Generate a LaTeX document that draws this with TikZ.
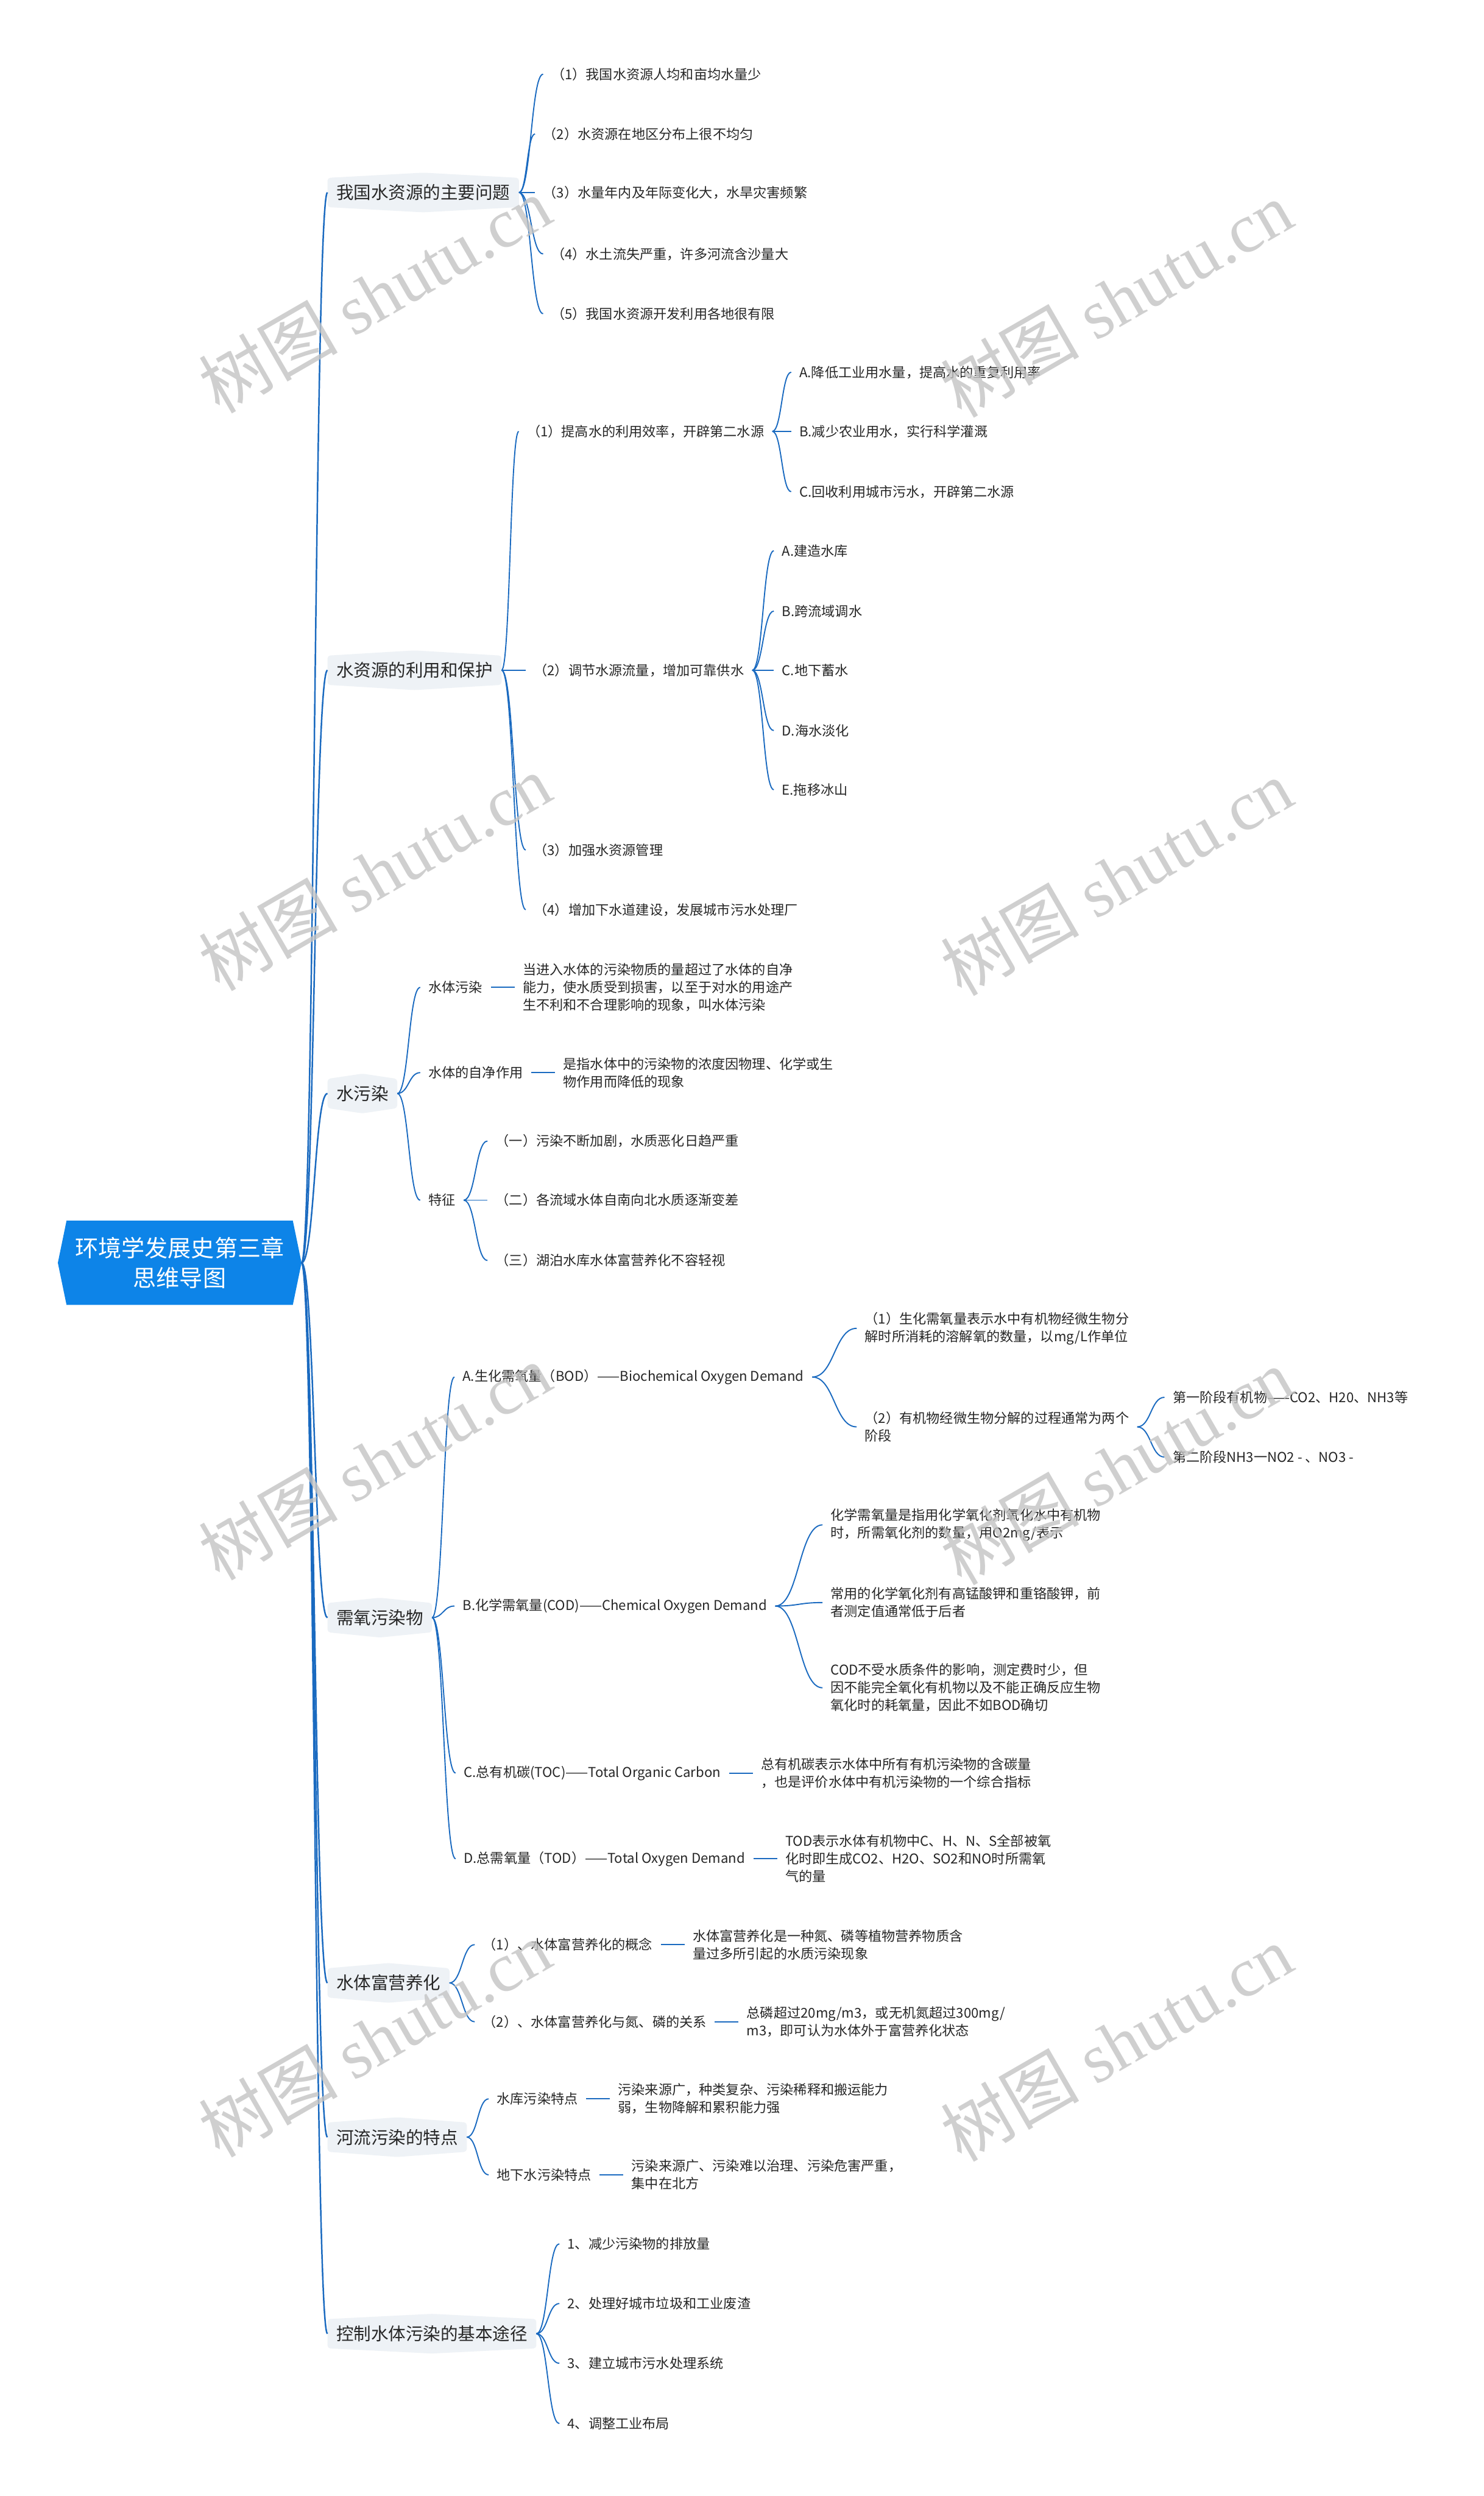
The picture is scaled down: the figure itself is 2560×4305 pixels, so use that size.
\documentclass[tikz,border=0pt]{standalone}
\usepackage{fontspec}
\setmainfont{Noto Sans CJK SC}
\newfontfamily\wmserif{Liberation Serif}
\usepackage{tikz}
\usetikzlibrary{positioning,calc,backgrounds}
\definecolor{rootblue}{HTML}{0D84E8}
\definecolor{linkblue}{HTML}{1A6AC0}
\definecolor{topicgrey}{HTML}{EEF2F6}
\definecolor{ink}{HTML}{262626}
\definecolor{wmgrey}{HTML}{C4C4C4}
\tikzset{
  rootbox/.style={text=white, align=center, font=\fontsize{40}{52}\selectfont, minimum width=420pt, minimum height=145pt, inner sep=0pt},
  topicbox/.style={anchor=west, text=ink, font=\fontsize{30}{36}\selectfont, inner xsep=15pt, inner ysep=0pt, minimum height=50pt},
  leaf/.style={anchor=west, text=ink, align=left, font=\fontsize{23.3}{30.5}\selectfont, inner xsep=14pt, inner ysep=3pt},
  mline/.style={draw=linkblue, line width=2pt},
  rootline/.style={mline, line width=2.6pt},
  wmark/.style={text=wmgrey, opacity=0.8, rotate=30, font=\fontsize{120}{120}\selectfont},
}
\newcommand{\mmlink}[3][]{%
  \draw[mline,#1] let \p1=(#2.east), \p2=(#3.west) in
    (\p1) .. controls ({(\x1+\x2)/2},\y1) and ({(\x1+\x2)/2},\y2) .. (\p2);}

\begin{document}
\begin{tikzpicture}[x=1pt, y=-1pt, node distance=41pt]
  \useasboundingbox (0,0) rectangle (2560,4305);
  \node[rootbox] (root) at (310,2178) {环境学发展史第三章\\思维导图};
  \node[topicbox] (probs) at (565,332) {我国水资源的主要问题};
  \node[topicbox] (use) at (565,1156) {水资源的利用和保护};
  \node[topicbox] (poll) at (565,1886) {水污染};
  \node[topicbox] (oxy) at (565,2790) {需氧污染物};
  \node[topicbox] (eutro) at (565,3420) {水体富营养化};
  \node[topicbox] (river) at (565,3686) {河流污染的特点};
  \node[topicbox] (ctrl) at (565,4025) {控制水体污染的基本途径};

  \node[leaf] (p1) at (937,128) {（1）我国水资源人均和亩均水量少};
  \node[leaf] (p2) at (923,231) {（2）水资源在地区分布上很不均匀};
  \node[leaf] (p3) at (923,332) {（3）水量年内及年际变化大，水旱灾害频繁};
  \node[leaf] (p4) at (937,438) {（4）水土流失严重，许多河流含沙量大};
  \node[leaf] (p5) at (937,541) {（5）我国水资源开发利用各地很有限};

  \node[leaf] (u1) at (895,744) {（1）提高水的利用效率，开辟第二水源};
  \node[leaf] (u2) at (907,1156) {（2）调节水源流量，增加可靠供水};
  \node[leaf] (u3) at (907,1466) {（3）加强水资源管理};
  \node[leaf] (u4) at (907,1569) {（4）增加下水道建设，发展城市污水处理厂};
  \node[leaf] (u1a) at (1365,642) {A.降低工业用水量，提高水的重复利用率};
  \node[leaf] (u1b) at (1365,744) {B.减少农业用水，实行科学灌溉};
  \node[leaf] (u1c) at (1365,848) {C.回收利用城市污水，开辟第二水源};
  \node[leaf] (u2a) at (1335,950) {A.建造水库};
  \node[leaf] (u2b) at (1335,1054) {B.跨流域调水};
  \node[leaf] (u2c) at (1335,1156) {C.地下蓄水};
  \node[leaf] (u2d) at (1335,1260) {D.海水淡化};
  \node[leaf] (u2e) at (1335,1362) {E.拖移冰山};

  \node[leaf] (w1) at (725,1703) {水体污染};
  \node[leaf, right=of w1] (w1d) {当进入水体的污染物质的量超过了水体的自净\\能力，使水质受到损害，以至于对水的用途产\\生不利和不合理影响的现象，叫水体污染};
  \node[leaf] (w2) at (725,1850) {水体的自净作用};
  \node[leaf, right=of w2] (w2d) {是指水体中的污染物的浓度因物理、化学或生\\物作用而降低的现象};
  \node[leaf] (w3) at (725,2070) {特征};
  \node[leaf] (w3a) at (841,1968) {（一）污染不断加剧，水质恶化日趋严重};
  \node[leaf] (w3b) at (841,2070) {（二）各流域水体自南向北水质逐渐变差};
  \node[leaf] (w3c) at (841,2174) {（三）湖泊水库水体富营养化不容轻视};

  \node[leaf] (bod) at (784,2375) {A.生化需氧量（BOD）——Biochemical Oxygen Demand};
  \node[leaf] (cod) at (784,2770) {B.化学需氧量(COD)——Chemical Oxygen Demand};
  \node[leaf] (toc) at (786,3058) {C.总有机碳(TOC)——Total Organic Carbon};
  \node[leaf] (tod) at (786,3206) {D.总需氧量（TOD）——Total Oxygen Demand};
  \node[leaf] (bod1) at (1478,2291) {（1）生化需氧量表示水中有机物经微生物分\\解时所消耗的溶解氧的数量，以mg/L作单位};
  \node[leaf] (bod2) at (1478,2461) {（2）有机物经微生物分解的过程通常为两个\\阶段};
  \node[leaf] (stage1) at (2009,2410) {第一阶段有机物——CO2、H20、NH3等};
  \node[leaf] (stage2) at (2009,2513) {第二阶段NH3一NO2 - 、NO3 -};
  \node[leaf] (cod1) at (1419,2630) {化学需氧量是指用化学氧化剂氧化水中有机物\\时，所需氧化剂的数量，用O2mg/表示};
  \node[leaf] (cod2) at (1419,2764) {常用的化学氧化剂有高锰酸钾和重铬酸钾，前\\者测定值通常低于后者};
  \node[leaf] (cod3) at (1419,2911) {COD不受水质条件的影响，测定费时少，但\\因不能完全氧化有机物以及不能正确反应生物\\氧化时的耗氧量，因此不如BOD确切};
  \node[leaf, right=of toc] (tocd) {总有机碳表示水体中所有有机污染物的含碳量\\，也是评价水体中有机污染物的一个综合指标};
  \node[leaf, right=of tod] (todd) {TOD表示水体有机物中C、H、N、S全部被氧\\化时即生成CO2、H2O、SO2和NO时所需氧\\气的量};

  \node[leaf] (e1) at (819,3354) {（1）、水体富营养化的概念};
  \node[leaf, right=of e1] (e1d) {水体富营养化是一种氮、磷等植物营养物质含\\量过多所引起的水质污染现象};
  \node[leaf] (e2) at (819,3487) {（2）、水体富营养化与氮、磷的关系};
  \node[leaf, right=of e2] (e2d) {总磷超过20mg/m3，或无机氮超过300mg/\\m3，即可认为水体外于富营养化状态};

  \node[leaf] (r1) at (843,3620) {水库污染特点};
  \node[leaf, right=of r1] (r1d) {污染来源广，种类复杂、污染稀释和搬运能力\\弱，生物降解和累积能力强};
  \node[leaf] (r2) at (843,3751) {地下水污染特点};
  \node[leaf, right=of r2] (r2d) {污染来源广、污染难以治理、污染危害严重，\\集中在北方};

  \node[leaf] (k1) at (965,3870) {1、减少污染物的排放量};
  \node[leaf] (k2) at (965,3973) {2、处理好城市垃圾和工业废渣};
  \node[leaf] (k3) at (965,4076) {3、建立城市污水处理系统};
  \node[leaf] (k4) at (965,4180) {4、调整工业布局};

  \begin{scope}[on background layer]
    \fill[white] (0,0) rectangle (2560,4305);
    \fill[rootblue] (root.west) -- ([xshift=15pt]root.north west) -- ([xshift=-15pt]root.north east) -- (root.east) -- ([xshift=-15pt]root.south east) -- ([xshift=15pt]root.south west) -- cycle;
    \foreach \t in {probs,use,poll,oxy,eutro,river,ctrl}
      \fill[topicgrey, rounded corners=5pt] (\t.south west) -- (\t.north west) -- ([yshift=9pt]\t.north) -- (\t.north east) -- (\t.south east) -- ([yshift=-9pt]\t.south) -- cycle;
  \end{scope}

  \foreach \t in {probs,use,poll,oxy,eutro,river,ctrl} \mmlink[rootline]{root}{\t};
  \foreach \c in {p1,p2,p3,p4,p5} \mmlink{probs}{\c};
  \foreach \c in {u1,u2,u3,u4} \mmlink{use}{\c};
  \foreach \c in {u1a,u1b,u1c} \mmlink{u1}{\c};
  \foreach \c in {u2a,u2b,u2c,u2d,u2e} \mmlink{u2}{\c};
  \foreach \c in {w1,w2,w3} \mmlink{poll}{\c};
  \foreach \c in {w3a,w3b,w3c} \mmlink{w3}{\c};
  \foreach \c in {bod,cod,toc,tod} \mmlink{oxy}{\c};
  \foreach \c in {bod1,bod2} \mmlink{bod}{\c};
  \foreach \c in {stage1,stage2} \mmlink{bod2}{\c};
  \foreach \c in {cod1,cod2,cod3} \mmlink{cod}{\c};
  \foreach \c in {e1,e2} \mmlink{eutro}{\c};
  \foreach \c in {r1,r2} \mmlink{river}{\c};
  \foreach \c in {k1,k2,k3,k4} \mmlink{ctrl}{\c};
  \draw[mline] (w1.east) -- (w1d.west);
  \draw[mline] (w2.east) -- (w2d.west);
  \draw[mline] (toc.east) -- (tocd.west);
  \draw[mline] (tod.east) -- (todd.west);
  \draw[mline] (e1.east) -- (e1d.west);
  \draw[mline] (e2.east) -- (e2d.west);
  \draw[mline] (r1.east) -- (r1d.west);
  \draw[mline] (r2.east) -- (r2d.west);

  \foreach \wx/\wy [count=\i] in {646/508, 1926/516, 646/1505, 1926/1513, 646/2521, 1926/2529, 646/3516, 1926/3524}
    \node[wmark] (wm\i) at (\wx,\wy) {树图 {\wmserif shutu.cn}};
\end{tikzpicture}
\end{document}
